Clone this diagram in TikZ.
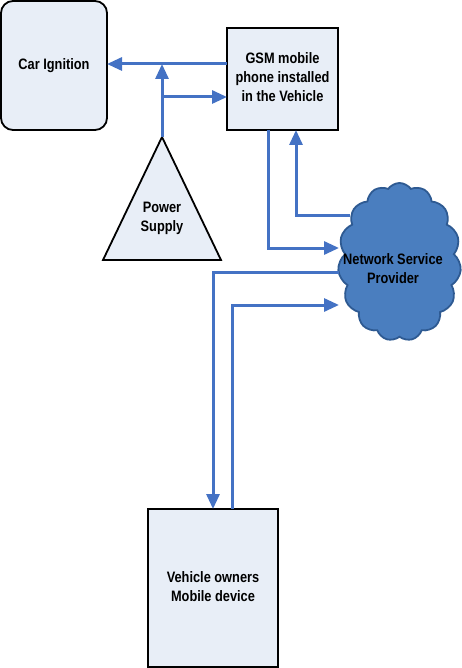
\documentclass[tikz,border=0pt]{standalone}
\usepackage{fontspec}
\setmainfont{Liberation Sans}
\usepackage{graphicx}
\usetikzlibrary{arrows.meta,shapes.symbols,calc}
\definecolor{boxfill}{HTML}{E8EEF7}
\definecolor{arrowblue}{HTML}{4472C4}
\definecolor{cloudfill}{HTML}{4A7EBF}
\definecolor{cloudedge}{HTML}{2E5A92}
\newcommand{\vtext}[1]{\scalebox{1}[1.18]{\fontsize{12.8}{16}\selectfont\bfseries\begin{tabular}{@{}c@{}}#1\end{tabular}}}
\begin{document}
\begin{tikzpicture}[x=1pt,y=-1pt,
  box/.style={draw=black,line width=1.8pt,fill=boxfill,inner sep=0pt,outer sep=0pt},
  arr/.style={draw=arrowblue,line width=3pt,-{Triangle[length=15pt,width=13pt]}}]
\useasboundingbox (0,0) rectangle (462,668);
% boxes
\node[box,rounded corners=12pt,minimum width=106pt,minimum height=129pt] (car) at (54,65.5) {\vtext{Car Ignition}};
\node[box,minimum width=111pt,minimum height=102pt] (gsm) at (282.5,79) {\vtext{GSM mobile\\phone installed\\in the Vehicle}};
\node[box,minimum width=130pt,minimum height=158pt] (veh) at (213,588) {\vtext{Vehicle owners\\Mobile device}};
% triangle
\coordinate (apex) at (162,137);
\coordinate (bl) at (103,260);
\coordinate (brr) at (221,260);
\draw[fill=boxfill,line width=1.8pt,line join=miter] (apex) -- (bl) -- (brr) -- cycle;
\node (ps) at (162,218.5) {\vtext{Power\\Supply}};
% cloud
\node[cloud,cloud puffs=15,cloud puff arc=110,aspect=0.78,draw=cloudedge,fill=cloudfill,line width=1.8pt,minimum width=123pt,minimum height=158pt,inner sep=0pt] (cloud) at (399.5,262) {};
\node (nsp) at (393,270) {\vtext{Network Service\\Provider}};
\coordinate (cA) at (339,248);
\coordinate (cB) at (350,215);
\coordinate (cC) at (339,272);
\coordinate (cD) at (339,305);
% connectors
\draw[arr] (gsm.west |- 0,64) -- (car.east |- 0,64);
\draw[arr] (apex) -- (162,64);
\coordinate (br) at (162,97);
\draw[arr] (br) -- (br -| gsm.west);
\draw[arr] (gsm.south -| 268,0) |- (cA);
\draw[arr] (cB) -| (gsm.south -| 296,0);
\draw[arr] (cC) -| (veh.north);
\draw[arr] (veh.north -| 232,0) |- (cD);
\end{tikzpicture}
\end{document}
